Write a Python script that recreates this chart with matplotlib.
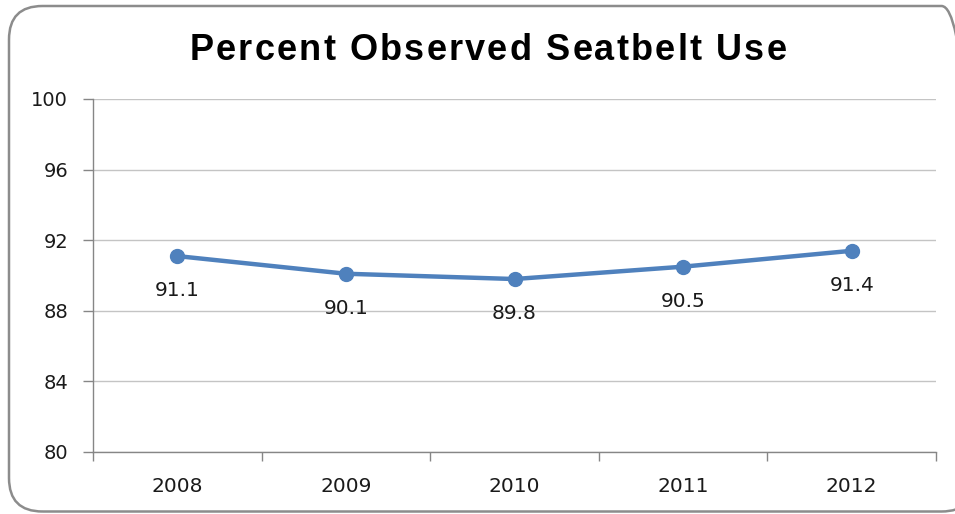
import matplotlib
matplotlib.use("Agg")
import matplotlib.pyplot as plt
from matplotlib.patches import FancyBboxPatch
from matplotlib import font_manager
import numpy as np

years = ["2008", "2009", "2010", "2011", "2012"]
values = [91.1, 90.1, 89.8, 90.5, 91.4]
labels = ["91.1", "90.1", "89.8", "90.5", "91.4"]
yticks = [80, 84, 88, 92, 96, 100]
title = "Percent Observed Seatbelt Use"

W, H = 955, 514
DPI = 100
fig = plt.figure(figsize=(W / DPI, H / DPI), dpi=DPI)
fig.patch.set_facecolor("white")

# rounded outer border (top ~6px from top, bottom ~2px from bottom)
border = FancyBboxPatch((9 / W, 2.5 / H), (975 - 9) / W, (508 - 2.5) / H,
                        boxstyle="round,pad=0,rounding_size=0.035",
                        transform=fig.transFigure, fill=False,
                        edgecolor="#8c8c8c", linewidth=1.8,
                        mutation_aspect=W / H)
fig.patches.append(border)

ax = fig.add_axes([93 / W, (H - 452) / H, 843 / W, 353 / H])
x = np.arange(len(years))
ax.plot(x, values, color="#4F81BD", linewidth=3.2, marker="o",
        markersize=10, solid_capstyle="round", zorder=3)
for xi, v, lab in zip(x, values, labels):
    ax.annotate(lab, (xi, v), xytext=(0, -25), textcoords="offset points",
                ha="center", va="center", fontsize=14.5, color="#1a1a1a",
                family="DejaVu Sans")

ax.set_xlim(-0.5, len(years) - 0.5)
ax.set_ylim(80, 100)
ax.set_yticks(yticks)
ax.set_yticklabels([str(t) for t in yticks], fontsize=14, color="#1a1a1a",
                   family="DejaVu Sans")
ax.set_xticks(x)
ax.set_xticklabels(years, fontsize=14.5, color="#1a1a1a", family="DejaVu Sans")
ax.set_xticks(np.arange(-0.5, len(years)), minor=True)
ax.tick_params(axis="x", which="major", length=0, pad=18)
ax.tick_params(axis="x", which="minor", length=6.5, color="#868686", width=1)
ax.tick_params(axis="y", length=7, color="#868686", width=1, pad=11)
ax.grid(axis="y", color="#c4c4c4", linewidth=1)
ax.set_axisbelow(True)
for s in ["top", "right"]:
    ax.spines[s].set_visible(False)
for s in ["left", "bottom"]:
    ax.spines[s].set_color("#868686")
    ax.spines[s].set_linewidth(1)

# title with letter spacing (per-character layout)
tsize = 26
fprop = font_manager.FontProperties(family="Liberation Sans", weight="bold",
                                    size=tsize)
renderer = fig.canvas.get_renderer()


def text_w(s):
    w, h, d = renderer.get_text_width_height_descent(s, fprop, ismath=False)
    return w


bar_w = text_w("|")
pos = [0.0] + [text_w(title[:i] + "|") - bar_w for i in range(1, len(title))]
full_w = text_w(title)
target_w = 597.0
spacing = (target_w - full_w) / (len(title) - 1)
x0 = 488 - target_w / 2
base_y = 1 - 60 / H
for i, ch in enumerate(title):
    if ch != " ":
        fig.text((x0 + pos[i] + i * spacing) / W, base_y, ch, ha="left",
                 va="baseline", fontproperties=fprop, color="black")

fig.savefig("out.png", dpi=DPI, facecolor="white")
